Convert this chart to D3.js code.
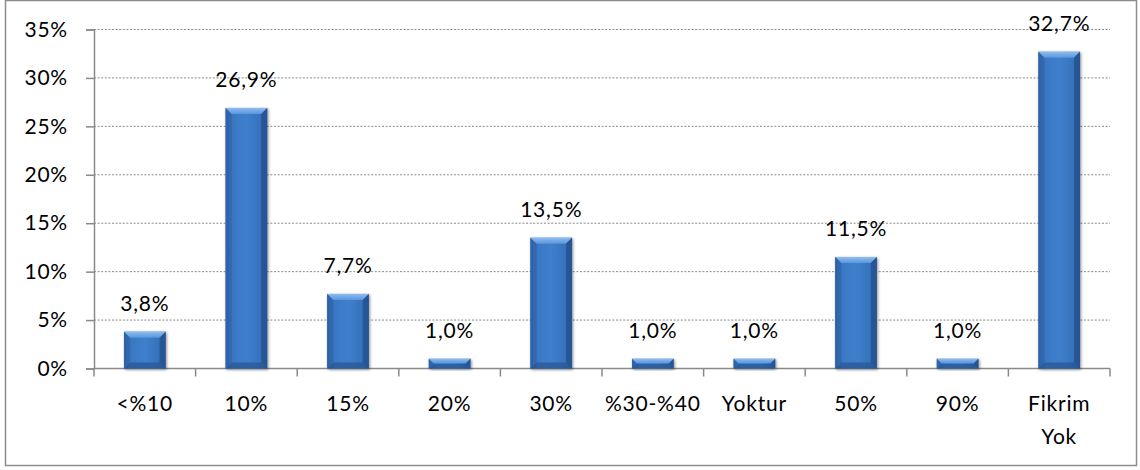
<!DOCTYPE html>
<html>
<head>
<meta charset="utf-8">
<script src="https://cdn.jsdelivr.net/npm/d3@7"></script>
<style>
  html, body { margin: 0; padding: 0; background: #fff; }
  svg { display: block; }
  text { font-family: Lato, "Open Sans", sans-serif; fill: #000; letter-spacing: 0.8px; }
</style>
</head>
<body>
<svg id="chart" width="1140" height="470"></svg>
<script>
// Answer categories and their shares (%)
const categories = ["<%10", "10%", "15%", "20%", "30%", "%30-%40", "Yoktur", "50%", "90%", "Fikrim Yok"];
const shares = [3.8, 26.9, 7.7, 1.0, 13.5, 1.0, 1.0, 11.5, 1.0, 32.7];
const yTicks = [0, 5, 10, 15, 20, 25, 30, 35];

const W = 1140, H = 470;
const margin = { top: 29.5, right: 30, bottom: 101.5, left: 94 };
const innerW = 1110 - margin.left;
const innerH = H - margin.top - margin.bottom;

const svg = d3.select("#chart");

// Outer frame
svg.append("rect")
  .attr("x", 5.5).attr("y", 0.5)
  .attr("width", 1131).attr("height", 465)
  .attr("fill", "#fff")
  .attr("stroke", "#8c8c8c").attr("stroke-width", 1.5);

const defs = svg.append("defs");

// Face gradient: darker at the sides, lighter in the middle
const faceGrad = defs.append("linearGradient").attr("id", "face")
  .attr("x1", "0").attr("x2", "1").attr("y1", "0").attr("y2", "0");
faceGrad.append("stop").attr("offset", "0%").attr("stop-color", "#2c5e9f");
faceGrad.append("stop").attr("offset", "18%").attr("stop-color", "#3a78c4");
faceGrad.append("stop").attr("offset", "50%").attr("stop-color", "#3f7fcc");
faceGrad.append("stop").attr("offset", "82%").attr("stop-color", "#3673bd");
faceGrad.append("stop").attr("offset", "100%").attr("stop-color", "#28599a");

// Top bevel highlight
const topGrad = defs.append("linearGradient").attr("id", "bevelTop")
  .attr("x1", "0").attr("x2", "0").attr("y1", "0").attr("y2", "1");
topGrad.append("stop").attr("offset", "0%").attr("stop-color", "#8dbcf0");
topGrad.append("stop").attr("offset", "100%").attr("stop-color", "#5a95dc");

// Soft shadow behind bars
const shadow = defs.append("filter").attr("id", "shadow")
  .attr("x", "-30%").attr("y", "-10%").attr("width", "160%").attr("height", "130%");
shadow.append("feGaussianBlur").attr("in", "SourceAlpha").attr("stdDeviation", 1.8).attr("result", "b");
shadow.append("feOffset").attr("in", "b").attr("dx", 0.5).attr("dy", 1).attr("result", "o");
shadow.append("feComponentTransfer").attr("in", "o").attr("result", "s")
  .append("feFuncA").attr("type", "linear").attr("slope", 0.45);
const mrg = shadow.append("feMerge");
mrg.append("feMergeNode").attr("in", "s");
mrg.append("feMergeNode").attr("in", "SourceGraphic");

const g = svg.append("g").attr("transform", `translate(${margin.left},${margin.top})`);

const x = d3.scaleBand().domain(categories).range([0, innerW]).paddingInner(0.59).paddingOuter(0.295);
const xTick = d3.scaleBand().domain(categories).range([0, innerW]);
const y = d3.scaleLinear().domain([0, 35]).range([innerH, 0]);

// Dotted gridlines
g.append("g").selectAll("line")
  .data(yTicks.filter(d => d > 0))
  .join("line")
  .attr("x1", 0).attr("x2", innerW)
  .attr("y1", d => y(d)).attr("y2", d => y(d))
  .attr("stroke", "#8a8a8a").attr("stroke-width", 1)
  .attr("stroke-dasharray", "2,1.6");

// Y axis
const yAxis = g.append("g").call(
  d3.axisLeft(y).tickValues(yTicks).tickSize(8).tickPadding(18).tickFormat(d => d + "%")
);
yAxis.select(".domain").attr("stroke", "#8a8a8a").attr("stroke-width", 1.5);
yAxis.selectAll(".tick line").attr("stroke", "#8a8a8a").attr("stroke-width", 1.5);
yAxis.selectAll(".tick text").attr("font-size", 21).attr("font-family", "Lato, sans-serif").attr("fill", "#000");

// X axis line with category dividers
g.append("line")
  .attr("x1", 0).attr("x2", innerW)
  .attr("y1", innerH).attr("y2", innerH)
  .attr("stroke", "#8a8a8a").attr("stroke-width", 1.5);
g.append("g").selectAll("line")
  .data(categories.map(c => xTick(c)).concat([innerW]))
  .join("line")
  .attr("x1", d => d).attr("x2", d => d)
  .attr("y1", innerH).attr("y2", innerH + 8)
  .attr("stroke", "#8a8a8a").attr("stroke-width", 1.5);

// Category labels (wrapped on spaces where needed)
g.append("g").selectAll("text")
  .data(categories)
  .join("text")
  .attr("text-anchor", "middle")
  .attr("font-size", 21)
  .attr("x", d => xTick(d) + xTick.bandwidth() / 2)
  .attr("y", innerH + 42)
  .each(function (d) {
    const words = d === "Fikrim Yok" ? d.split(" ") : [d];
    d3.select(this).selectAll("tspan").data(words).join("tspan")
      .attr("x", xTick(d) + xTick.bandwidth() / 2)
      .attr("dy", (w, i) => i === 0 ? 0 : 33)
      .text(w => w);
  });

// Bevelled bars
const bars = g.append("g").selectAll("g")
  .data(categories.map((c, i) => ({ c, v: shares[i] })))
  .join("g")
  .attr("filter", "url(#shadow)");

bars.each(function (d) {
  const el = d3.select(this);
  const x0 = x(d.c), w = x.bandwidth();
  const y0 = y(d.v), h = y(0) - y(d.v);
  const b = Math.min(6, h / 2.2);
  el.append("rect").attr("x", x0).attr("y", y0).attr("width", w).attr("height", h).attr("fill", "url(#face)");
  // top bevel
  el.append("path")
    .attr("d", `M${x0},${y0}L${x0 + w},${y0}L${x0 + w - b},${y0 + b}L${x0 + b},${y0 + b}Z`)
    .attr("fill", "url(#bevelTop)");
  // bottom bevel
  el.append("path")
    .attr("d", `M${x0},${y0 + h}L${x0 + w},${y0 + h}L${x0 + w - b},${y0 + h - b}L${x0 + b},${y0 + h - b}Z`)
    .attr("fill", "#2a5896").attr("opacity", 0.8);
  // side bevels
  el.append("path")
    .attr("d", `M${x0},${y0}L${x0 + b},${y0 + b}L${x0 + b},${y0 + h - b}L${x0},${y0 + h}Z`)
    .attr("fill", "#2f65ab").attr("opacity", 0.7);
  el.append("path")
    .attr("d", `M${x0 + w},${y0}L${x0 + w - b},${y0 + b}L${x0 + w - b},${y0 + h - b}L${x0 + w},${y0 + h}Z`)
    .attr("fill", "#24528f").attr("opacity", 0.75);
});

// Value labels
g.append("g").selectAll("text")
  .data(categories.map((c, i) => ({ c, v: shares[i] })))
  .join("text")
  .attr("text-anchor", "middle")
  .attr("font-size", 21)
  .attr("x", d => x(d.c) + x.bandwidth() / 2)
  .attr("y", d => y(d.v) - 21)
  .text(d => d.v.toFixed(1).replace(".", ",") + "%");
</script>
</body>
</html>
